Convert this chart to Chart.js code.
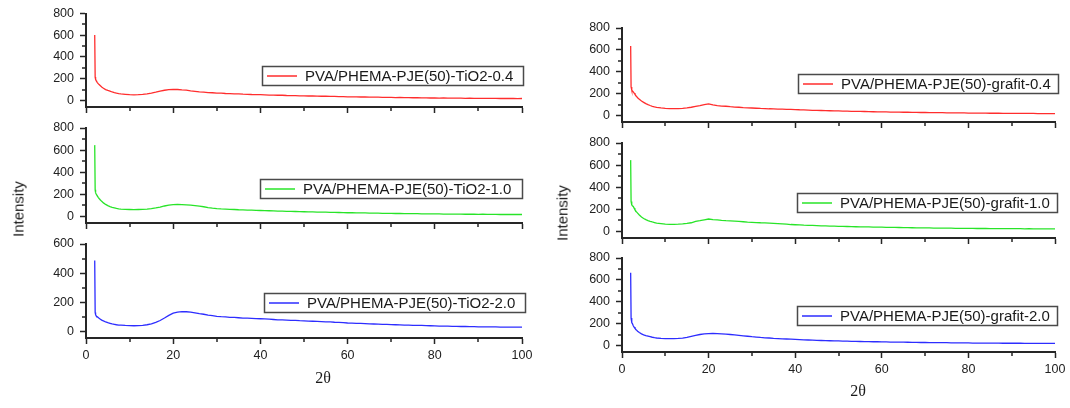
<!DOCTYPE html>
<html>
<head>
<meta charset="utf-8">
<title>XRD PVA/PHEMA-PJE(50)</title>
<script src="https://cdn.jsdelivr.net/npm/chart.js@4.4.1/dist/chart.umd.min.js"></script>
<style>
  html, body { margin: 0; padding: 0; background: #fff; }
  #wrap { position: relative; width: 1070px; height: 408px; overflow: hidden; background: #fff; }
  #wrap canvas { position: absolute; left: 0; top: 0; }
  .ttl { position: absolute; color: #1a1a1a; white-space: nowrap; line-height: 1; }
  .ylab { font: 15px "Liberation Sans", Arial, sans-serif; transform: translate(-50%, -50%) rotate(-90deg); }
  .xlab { font: 16px "Liberation Serif", "Times New Roman", serif; transform: translate(-50%, -50%); }
</style>
</head>
<body>
<div id="wrap">
  <canvas id="pL1" width="1070" height="408"></canvas>
  <canvas id="pL2" width="1070" height="408"></canvas>
  <canvas id="pL3" width="1070" height="408"></canvas>
  <canvas id="pR1" width="1070" height="408"></canvas>
  <canvas id="pR2" width="1070" height="408"></canvas>
  <canvas id="pR3" width="1070" height="408"></canvas>
  <div class="ttl ylab" style="left:18px;top:209px">Intensity</div>
  <div class="ttl ylab" style="left:562px;top:213px">Intensity</div>
  <div class="ttl xlab" style="left:323px;top:378px">2θ</div>
  <div class="ttl xlab" style="left:858px;top:391px">2θ</div>
</div>
<script>
// 2θ sampling positions (degrees)
const twoTheta = [2.0, 2.1, 2.2, 2.3, 2.4, 2.6, 2.8, 3.0, 3.3, 3.6, 4.0, 4.5, 5.0, 5.5, 6.0, 6.5, 7, 7.5,
  8, 9, 10, 11, 12, 13, 14, 15, 16, 17,
  18, 19, 20, 21, 22, 23, 24, 25, 26, 27,
  28, 29, 30, 31, 32, 33, 34, 35, 36, 37,
  38, 39, 40, 41, 42, 43, 44, 45, 46, 47,
  48, 49, 50, 51, 52, 53, 54, 55, 56, 57,
  58, 59, 60, 61, 62, 63, 64, 65, 66, 67,
  68, 69, 70, 71, 72, 73, 74, 75, 76, 77,
  78, 79, 80, 81, 82, 83, 84, 85, 86, 87,
  88, 89, 90, 91, 92, 93, 94, 95, 96, 97,
  98, 99, 100];

// Intensities, TiO2 series
const tio2_04 = [602, 215, 195, 185, 178, 165, 155, 146, 135, 124, 112, 100, 92, 85, 78, 72, 67, 63,
  60, 57, 53, 52, 53, 56, 61, 68, 77, 87,
  94, 99, 102, 101, 97, 95, 89, 84, 79, 77,
  73, 71, 68, 67, 64, 63, 60, 61, 58, 57,
  55, 54, 53, 52, 50, 50, 48, 48, 46, 45,
  45, 43, 43, 41, 42, 40, 39, 39, 37, 37,
  36, 35, 34, 34, 33, 32, 32, 31, 30, 30,
  29, 29, 28, 27, 28, 26, 26, 25, 25, 24,
  24, 23, 24, 22, 23, 22, 21, 22, 21, 20,
  21, 20, 20, 19, 20, 19, 19, 18, 19, 18,
  18, 17, 18];
const tio2_10 = [645, 240, 215, 205, 198, 185, 172, 162, 148, 136, 122, 108, 97, 89, 82, 77, 72, 68,
  66, 63, 62, 61, 62, 63, 66, 70, 76, 84,
  94, 101, 106, 108, 107, 104, 101, 97, 92, 87,
  80, 75, 71, 68, 66, 63, 62, 60, 59, 57,
  56, 54, 53, 52, 51, 50, 48, 48, 46, 45,
  44, 43, 42, 41, 40, 39, 38, 38, 37, 36,
  35, 34, 33, 33, 32, 31, 31, 30, 29, 29,
  28, 28, 27, 26, 26, 25, 25, 24, 24, 23,
  23, 22, 22, 22, 21, 21, 20, 20, 20, 19,
  19, 19, 18, 19, 18, 18, 18, 17, 18, 17,
  17, 17, 17];
const tio2_20 = [486, 130, 115, 108, 104, 100, 95, 90, 84, 78, 72, 65, 60, 56, 52, 49, 46, 44,
  43, 41, 40, 39, 40, 42, 46, 52, 62, 75,
  92, 110, 125, 132, 136, 135, 133, 128, 122, 118,
  112, 108, 104, 101, 100, 97, 96, 94, 92, 91,
  90, 88, 87, 86, 84, 82, 80, 79, 78, 76,
  76, 74, 73, 71, 70, 69, 68, 66, 65, 63,
  62, 60, 58, 57, 56, 55, 54, 52, 51, 50,
  49, 48, 47, 46, 45, 44, 43, 42, 41, 41,
  40, 39, 38, 37, 37, 36, 35, 35, 34, 34,
  33, 33, 32, 32, 31, 31, 31, 30, 30, 30,
  29, 29, 30];

// Intensities, grafit series
const grafit_04 = [636, 260, 240, 232, 225, 215, 205, 192, 176, 162, 148, 132, 120, 108, 99, 91, 84, 78,
  74, 69, 65, 63, 62, 63, 65, 69, 75, 83,
  90, 98, 106, 96, 90, 86, 84, 80, 77, 75,
  72, 70, 68, 66, 64, 63, 61, 60, 58, 57,
  56, 55, 54, 52, 51, 49, 47, 46, 45, 44,
  43, 42, 41, 40, 39, 38, 38, 37, 36, 35,
  34, 33, 32, 32, 31, 30, 30, 29, 29, 28,
  28, 27, 27, 26, 26, 25, 25, 24, 24, 23,
  23, 23, 22, 22, 21, 21, 21, 20, 20, 20,
  19, 19, 19, 19, 18, 18, 18, 18, 17, 17,
  17, 17, 17];
const grafit_10 = [645, 270, 250, 240, 232, 225, 210, 195, 178, 165, 148, 130, 117, 106, 98, 91, 85, 80,
  75, 70, 65, 64, 63, 65, 68, 72, 78, 90,
  97, 105, 112, 107, 104, 100, 97, 95, 93, 90,
  87, 84, 82, 80, 78, 77, 75, 73, 71, 68,
  65, 62, 60, 58, 56, 55, 54, 52, 50, 49,
  48, 47, 46, 45, 44, 43, 42, 41, 40, 40,
  39, 38, 38, 37, 36, 36, 35, 34, 34, 33,
  32, 32, 31, 31, 30, 30, 29, 29, 29, 28,
  28, 27, 27, 27, 26, 26, 26, 25, 25, 25,
  25, 24, 24, 24, 24, 23, 24, 23, 23, 23,
  23, 22, 23];
const grafit_20 = [666, 250, 225, 210, 200, 180, 168, 156, 142, 130, 118, 106, 97, 90, 85, 80, 75, 71,
  68, 65, 63, 62, 63, 64, 67, 74, 83, 92,
  100, 105, 108, 110, 109, 106, 103, 100, 96, 92,
  88, 84, 80, 77, 73, 70, 68, 65, 63, 61,
  59, 57, 55, 53, 51, 50, 48, 46, 45, 44,
  43, 42, 41, 40, 39, 38, 37, 36, 35, 35,
  34, 34, 33, 32, 31, 31, 30, 30, 29, 28,
  28, 27, 27, 26, 26, 25, 25, 25, 24, 24,
  23, 23, 23, 22, 22, 22, 21, 21, 21, 21,
  20, 20, 20, 20, 20, 19, 19, 19, 19, 19,
  19, 18, 19];

// Axis ticks
const xTicks = [0, 20, 40, 60, 80, 100];
const xMinor = [10, 30, 50, 70, 90];
const yTicks800 = [0, 200, 400, 600, 800];
const yMinor800 = [100, 300, 500, 700];
const yTicks600 = [0, 200, 400, 600];
const yMinor600 = [100, 300, 500];

const W = 1070, H = 408;
const Y_W = 60, X_H = 40;
const AXIS = '#262626';
const TICK_FONT = { family: '"Liberation Sans", Arial, sans-serif', size: 12.5 };
const TICK_COLOR = '#222';

// short unlabeled ticks between the labeled ones
const minorTicks = {
  id: 'minorTicks',
  afterDraw(chart, args, opts) {
    const { ctx, chartArea: a, scales: { x, y } } = chart;
    ctx.save();
    ctx.strokeStyle = AXIS;
    ctx.lineWidth = 1.5;
    ctx.beginPath();
    opts.x.forEach(v => {
      const px = Math.round(x.getPixelForValue(v));
      ctx.moveTo(px, a.bottom);
      ctx.lineTo(px, a.bottom + 4);
    });
    opts.y.forEach(v => {
      const py = Math.round(y.getPixelForValue(v));
      ctx.moveTo(a.left, py);
      ctx.lineTo(a.left - 4, py);
    });
    ctx.stroke();
    ctx.restore();
  }
};

// framed legend placed inside the plot
const boxLegend = {
  id: 'boxLegend',
  afterDraw(chart, args, o) {
    const ds = chart.data.datasets[0];
    const ctx = chart.ctx;
    ctx.save();
    ctx.fillStyle = '#fff';
    ctx.fillRect(o.x, o.y, o.w, o.h);
    ctx.strokeStyle = '#4a4a4a';
    ctx.lineWidth = 1.5;
    ctx.strokeRect(o.x + 0.5, o.y + 0.5, o.w, o.h);
    const cy = o.y + o.h / 2 + 0.5;
    ctx.strokeStyle = ds.borderColor;
    ctx.lineWidth = 1.5;
    ctx.beginPath();
    ctx.moveTo(o.x + 5, cy);
    ctx.lineTo(o.x + 35, cy);
    ctx.stroke();
    ctx.fillStyle = '#1a1a1a';
    ctx.font = '15px "Liberation Sans", Arial, sans-serif';
    ctx.textBaseline = 'middle';
    ctx.fillText(ds.label, o.x + 43, cy + 1);
    ctx.restore();
  }
};

function panel(id, label, values, color, area, yRange, yTicks, yMinor, showX, box) {
  const axisGrid = { display: true, drawOnChartArea: false, drawTicks: true, tickLength: 6, tickColor: AXIS, tickWidth: 1.5 };
  const axisBorder = { display: true, color: AXIS, width: 2 };
  new Chart(document.getElementById(id), {
    type: 'line',
    data: {
      datasets: [{
        label: label,
        data: twoTheta.map((t, i) => ({ x: t, y: values[i] })),
        borderColor: color,
        borderWidth: 1.3,
        pointRadius: 0,
        tension: 0,
        fill: false
      }]
    },
    options: {
      responsive: false,
      animation: false,
      devicePixelRatio: 1,
      layout: {
        padding: { left: area.left - Y_W, top: area.top, right: W - area.right, bottom: H - area.bottom - X_H }
      },
      plugins: {
        legend: { display: false },
        tooltip: { enabled: false },
        minorTicks: { x: xMinor, y: yMinor },
        boxLegend: box
      },
      scales: {
        x: {
          type: 'linear', min: 0, max: 100,
          afterBuildTicks: s => { s.ticks = xTicks.map(v => ({ value: v })); },
          afterFit: s => { s.height = X_H; },
          grid: axisGrid, border: axisBorder,
          ticks: { display: showX, autoSkip: false, maxRotation: 0, padding: 4, color: TICK_COLOR, font: TICK_FONT }
        },
        y: {
          type: 'linear', min: yRange[0], max: yRange[1],
          afterBuildTicks: s => { s.ticks = yTicks.map(v => ({ value: v })); },
          afterFit: s => { s.width = Y_W; },
          grid: axisGrid, border: axisBorder,
          ticks: { autoSkip: false, padding: 6, color: TICK_COLOR, font: TICK_FONT }
        }
      }
    },
    plugins: [minorTicks, boxLegend]
  });
}

const RED = 'rgb(255,45,45)', GREEN = 'rgb(40,228,40)', BLUE = 'rgb(45,45,255)';

panel('pL1', 'PVA/PHEMA-PJE(50)-TiO2-0.4', tio2_04, RED,
  { left: 86, right: 522, top: 12, bottom: 107 }, [-60, 800], yTicks800, yMinor800, false,
  { x: 262, y: 66, w: 261, h: 19 });
panel('pL2', 'PVA/PHEMA-PJE(50)-TiO2-1.0', tio2_10, GREEN,
  { left: 86, right: 522, top: 128, bottom: 223 }, [-60, 800], yTicks800, yMinor800, false,
  { x: 260, y: 179, w: 262, h: 19 });
panel('pL3', 'PVA/PHEMA-PJE(50)-TiO2-2.0', tio2_20, BLUE,
  { left: 86, right: 522, top: 244, bottom: 338 }, [-45, 600], yTicks600, yMinor600, true,
  { x: 264, y: 293, w: 261, h: 19 });
panel('pR1', 'PVA/PHEMA-PJE(50)-grafit-0.4', grafit_04, RED,
  { left: 622, right: 1055, top: 28, bottom: 122 }, [-60, 800], yTicks800, yMinor800, false,
  { x: 798, y: 74, w: 260, h: 19 });
panel('pR2', 'PVA/PHEMA-PJE(50)-grafit-1.0', grafit_10, GREEN,
  { left: 622, right: 1055, top: 143, bottom: 238 }, [-60, 800], yTicks800, yMinor800, false,
  { x: 797, y: 193, w: 260, h: 19 });
panel('pR3', 'PVA/PHEMA-PJE(50)-grafit-2.0', grafit_20, BLUE,
  { left: 622, right: 1055, top: 258, bottom: 352 }, [-60, 800], yTicks800, yMinor800, true,
  { x: 797, y: 306, w: 260, h: 19 });
</script>
</body>
</html>
